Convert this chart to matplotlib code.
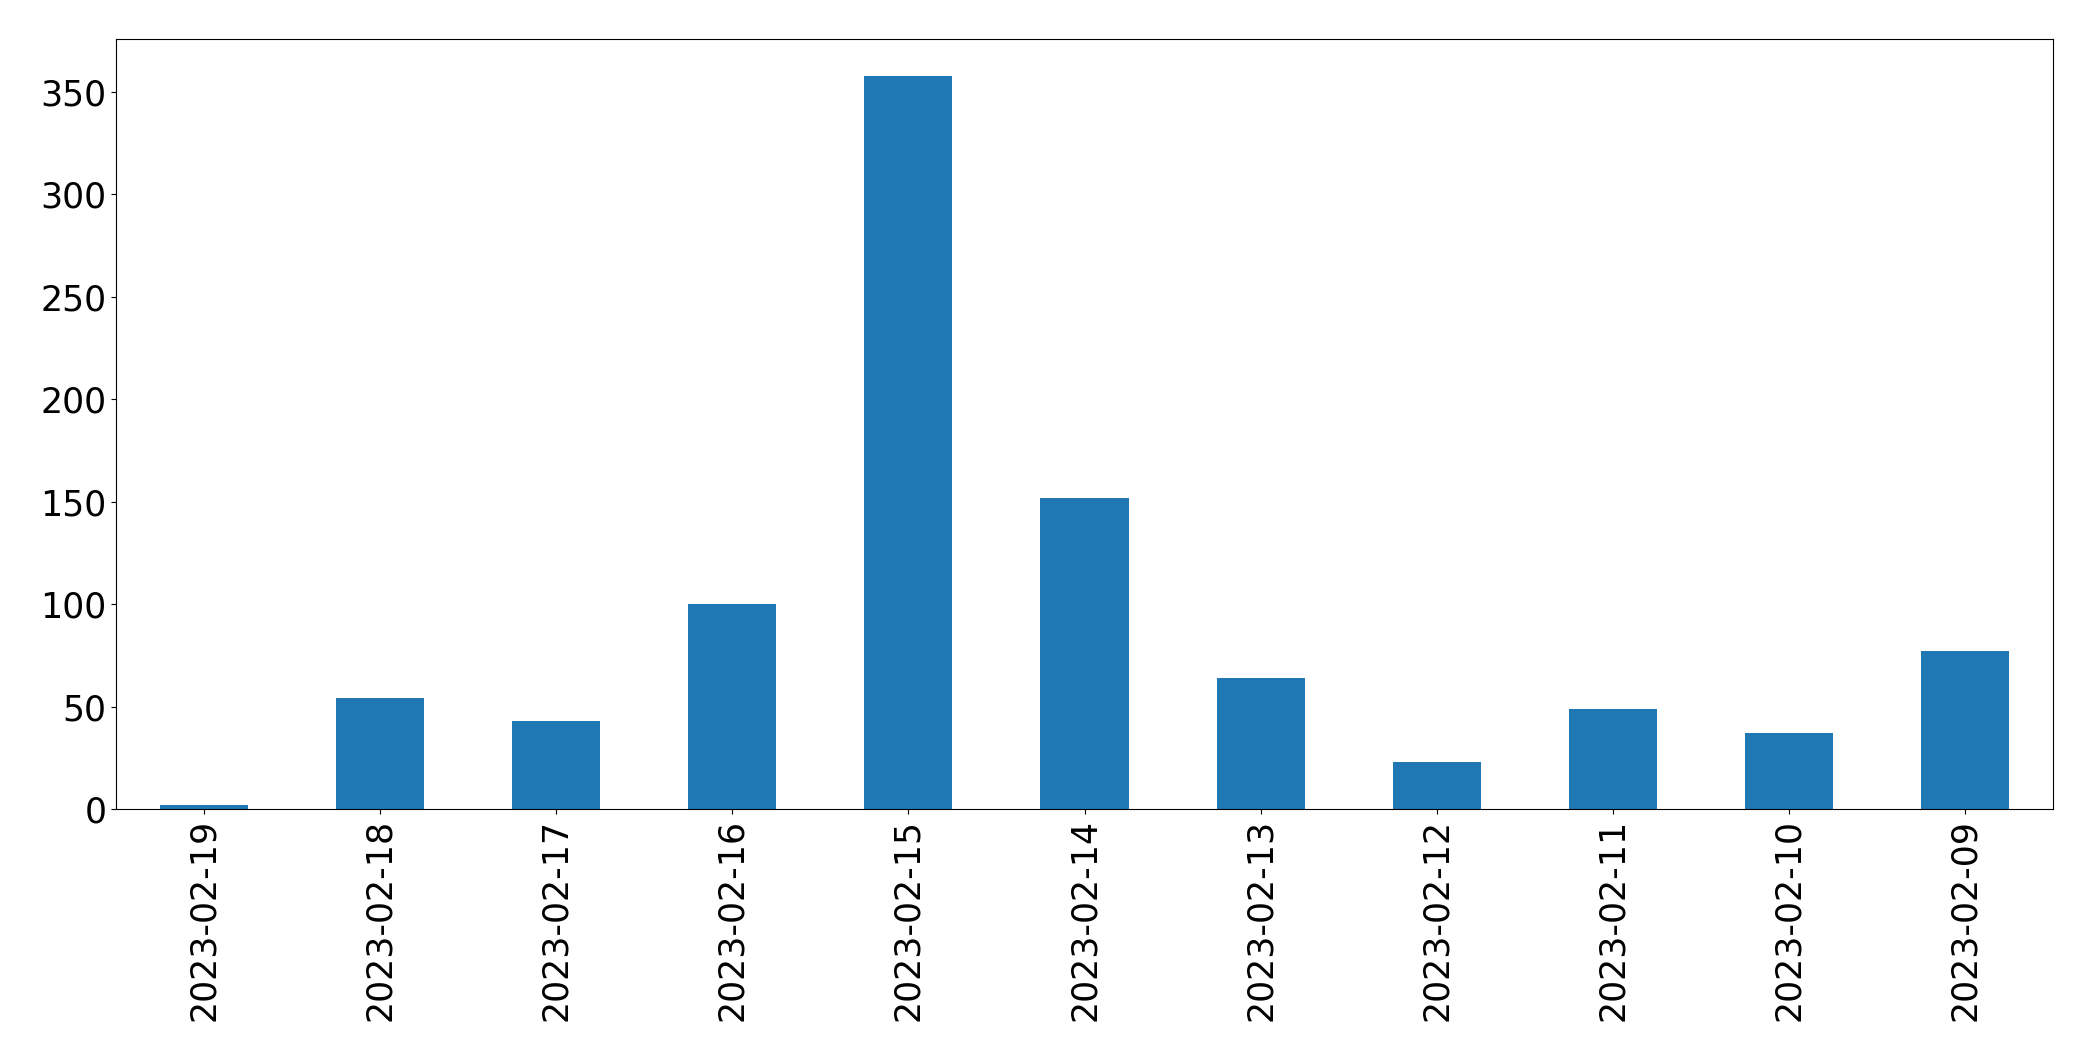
import pandas as pd
import matplotlib.pyplot as plt

# --- data ---
dates = ["2023-02-19", "2023-02-18", "2023-02-17", "2023-02-16", "2023-02-15",
         "2023-02-14", "2023-02-13", "2023-02-12", "2023-02-11", "2023-02-10",
         "2023-02-09"]
counts = [2, 54, 43, 100, 358, 152, 64, 23, 49, 37, 77]


def main():
    s = pd.Series(counts, index=dates)

    fig = plt.figure(figsize=(20.93, 10.61), dpi=100)
    ax = fig.add_axes([116 / 2093, 1 - 809 / 1061, (2053 - 116) / 2093, (809 - 39) / 1061])
    s.plot(kind="bar", ax=ax, color="#1f77b4", rot=90)

    ax.tick_params(axis="both", labelsize=25)

    fig.savefig("out.png", dpi=100)
    plt.close(fig)


if __name__ == "__main__":
    main()
